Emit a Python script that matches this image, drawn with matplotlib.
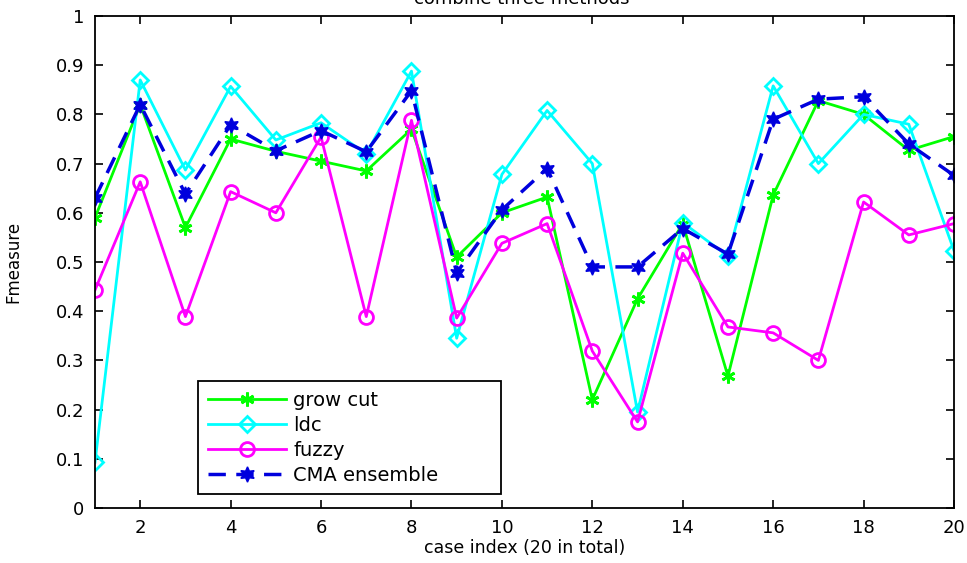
import matplotlib.pyplot as plt

plt.rcParams['font.family'] = ['DejaVu Sans']

# indices de los casos
casos = list(range(1, 21))

# Fmeasure por metodo
grow_cut = [0.59, 0.82, 0.57, 0.75, 0.725, 0.705, 0.685, 0.77, 0.51, 0.60,
            0.632, 0.22, 0.425, 0.578, 0.268, 0.636, 0.828, 0.80, 0.727, 0.755]
ldc = [0.093, 0.87, 0.687, 0.857, 0.748, 0.783, 0.72, 0.888, 0.345, 0.678,
       0.808, 0.70, 0.195, 0.58, 0.512, 0.858, 0.70, 0.80, 0.78, 0.523]
fuzzy = [0.443, 0.663, 0.389, 0.643, 0.60, 0.754, 0.389, 0.788, 0.386, 0.538,
         0.578, 0.319, 0.175, 0.518, 0.368, 0.356, 0.30, 0.622, 0.555, 0.578]
cma = [0.63, 0.82, 0.638, 0.779, 0.726, 0.767, 0.724, 0.848, 0.478, 0.606,
       0.69, 0.49, 0.49, 0.568, 0.516, 0.79, 0.831, 0.836, 0.74, 0.676]

fig = plt.figure(figsize=(9.67, 5.63), dpi=100)
ax = fig.add_axes([95 / 967, 55 / 563, 859 / 967, 492 / 563])

ax.plot(casos, grow_cut, color='#00ff00', lw=2, marker=(6, 2, 0),
        markersize=10, markeredgewidth=2, label='grow cut')
ax.plot(casos, ldc, color='#00ffff', lw=2, marker='D', markersize=8,
        markerfacecolor='none', markeredgewidth=2, label='ldc')
ax.plot(casos, fuzzy, color='#ff00ff', lw=2, marker='o', markersize=10,
        markerfacecolor='none', markeredgewidth=2, label='fuzzy')
ax.plot(casos, cma, color='#0000dd', lw=2.5, ls=(0, (5, 3)), marker=(6, 1, 0),
        markersize=11, label='CMA ensemble')

# Ejes
ax.set_xlim(1, 20)
ax.set_ylim(0, 1)
ax.set_xticks(range(2, 21, 2))
ax.set_yticks([0, 0.1, 0.2, 0.3, 0.4, 0.5, 0.6, 0.7, 0.8, 0.9, 1])
ax.set_yticklabels(['0', '0.1', '0.2', '0.3', '0.4', '0.5', '0.6', '0.7',
                    '0.8', '0.9', '1'])
ax.tick_params(direction='in', length=6, width=1.2, top=True, right=True,
               labelsize=13, pad=8)
for s in ax.spines.values():
    s.set_linewidth(1.3)

ax.set_xlabel('case index (20 in total)', fontsize=12.5)
ax.set_ylabel('Fmeasure', fontsize=12)
ax.xaxis.set_label_coords(0.5, -0.064)
ax.yaxis.set_label_coords(-0.085, 0.5)

# Titulo (cortado arriba)
fig.text(0.54, 1 - 4 / 563, 'combine three methods', ha='center',
         va='baseline', fontsize=13)

leg = ax.legend(loc='lower left', bbox_to_anchor=(0.12, 0.028, 0.353, 0.236),
                mode='expand', fontsize=14, handlelength=4.0,
                handletextpad=0.4, fancybox=False, framealpha=1,
                edgecolor='black', borderpad=0.5, labelspacing=0.3,
                borderaxespad=0)
leg.get_frame().set_linewidth(1.3)

fig.savefig('out.png', dpi=100)
